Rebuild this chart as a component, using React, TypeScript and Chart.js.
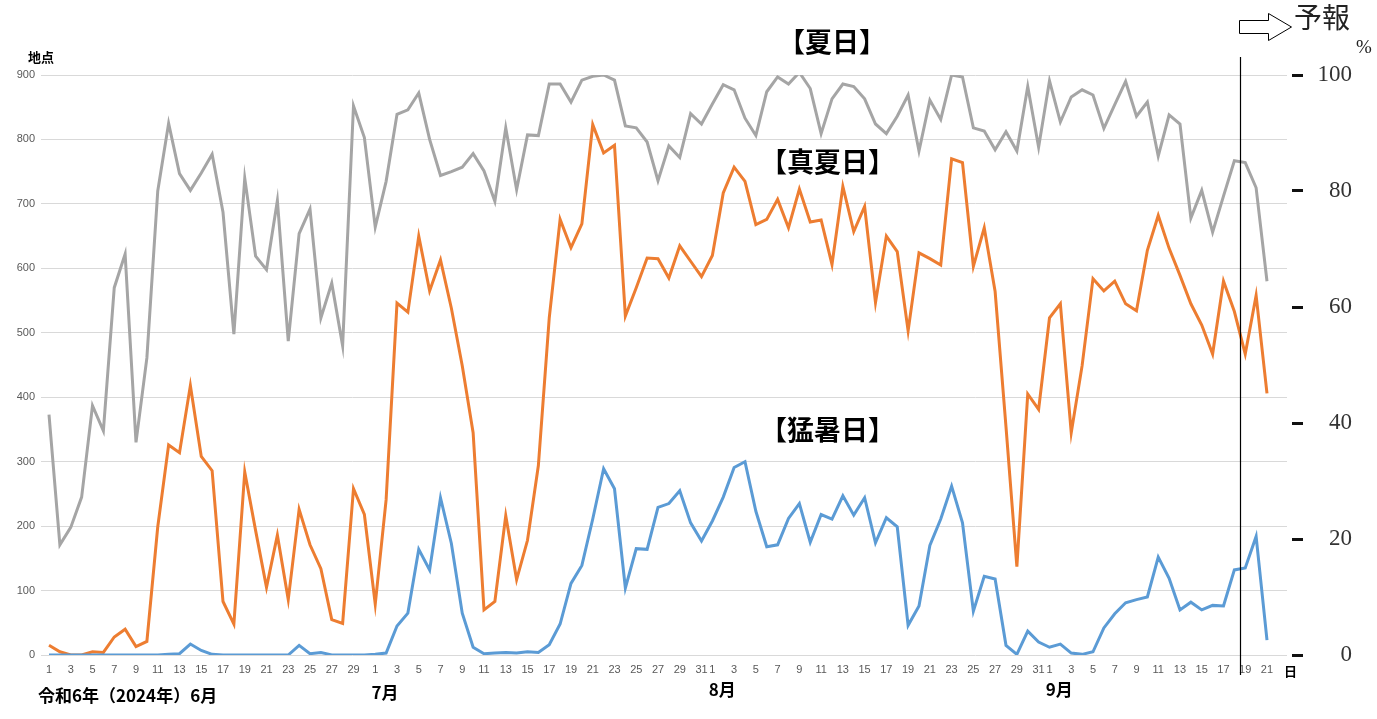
import React, { useEffect, useRef } from 'react';
import { Chart, registerables } from 'chart.js';

Chart.register(...registerables);

// Month structure of the x axis (June 1 – September 21, 2024)
const monthNames = ['7月', '8月', '9月'];
const monthLengths = [30, 31, 31, 21];
const dayLabels: string[] = monthLengths.flatMap((n) => Array.from({ length: n }, (_, i) => String(i + 1)));

// 夏日 (grey) – number of stations
const natsubi = [
  373, 171, 198, 245, 387, 348, 570, 622, 330, 461, 720, 825, 747, 721, 748, 777, 687, 498, 740, 619,
  598, 705, 487, 654, 692, 523, 577, 480, 852, 803, 664, 735, 839, 846, 872, 800, 744, 750, 757, 778,
  751, 704, 818, 722, 807, 806, 886, 886, 858, 892, 898, 900, 892, 821, 818, 796, 736, 790, 772, 840,
  824, 855, 885, 877, 833, 806, 874, 897, 886, 904, 879, 809, 863, 886, 882, 863, 824, 809, 836, 869,
  782, 861, 831, 900, 897, 818, 813, 784, 812, 782, 882, 788, 891, 827, 866, 877, 869, 817, 854, 890,
  836, 858, 774, 838, 824, 678, 721, 656, 712, 767, 764, 725, 580,
];

// 真夏日 (orange)
const manatsubi = [
  15, 5, 0, 0, 5, 4, 28, 40, 13, 21, 199, 326, 314, 418, 308, 286, 83, 48, 284, 193,
  105, 186, 86, 226, 171, 134, 55, 49, 258, 218, 79, 241, 546, 532, 650, 565, 613, 538, 449, 345,
  70, 83, 216, 117, 178, 294, 523, 676, 632, 669, 823, 779, 791, 526, 570, 616, 615, 585, 635, 611,
  587, 620, 717, 757, 735, 668, 676, 707, 663, 723, 672, 675, 606, 727, 657, 696, 547, 650, 626, 503,
  624, 615, 605, 770, 764, 603, 663, 564, 354, 137, 405, 381, 523, 545, 345, 449, 584, 565, 580, 545,
  534, 628, 682, 631, 589, 545, 512, 467, 580, 533, 467, 558, 406,
];

// 猛暑日 (blue)
const moshobi = [
  0, 0, 0, 0, 0, 0, 0, 0, 0, 0, 0, 1, 2, 17, 7, 1, 0, 0, 0, 0,
  0, 0, 0, 15, 2, 4, 0, 0, 0, 0, 1, 3, 45, 65, 164, 132, 244, 173, 65, 12,
  2, 3, 4, 3, 5, 4, 16, 48, 111, 139, 211, 289, 258, 104, 165, 164, 229, 235, 255, 205,
  177, 208, 245, 291, 300, 223, 168, 171, 212, 235, 175, 218, 211, 247, 217, 244, 174, 213, 199, 46,
  76, 170, 211, 262, 205, 68, 122, 118, 15, 1, 37, 20, 12, 17, 3, 1, 5, 42, 64, 81,
  86, 90, 152, 119, 70, 82, 70, 77, 76, 132, 135, 184, 23,
];

const forecastStart = 109.55; // boundary between observed and forecast (Sep 18/19)

const annotations = {
  id: 'annotations',
  afterDraw(chart: any) {
    const { ctx, scales } = chart;
    const xs = scales.x;
    ctx.save();
    ctx.fillStyle = '#000';
    ctx.textBaseline = 'middle';
    ctx.textAlign = 'left';

    ctx.font = 'bold 27px "Noto Sans CJK JP"';
    ctx.fillText('【夏日】', 778, 42);
    ctx.fillText('【真夏日】', 760, 162);
    ctx.fillText('【猛暑日】', 760, 430);

    ctx.font = 'bold 13px "Noto Sans CJK JP"';
    ctx.fillText('地点', 28, 57);
    ctx.fillText('日', 1284, 671);

    ctx.font = 'bold 17px "Noto Sans CJK JP"';
    ctx.fillText('令和6年（2024年）6月', 38, 696);
    let start = 0;
    monthNames.forEach((name, k) => {
      start += monthLengths[k];
      const px = xs.getPixelForValue(start + 0.9);
      ctx.textAlign = 'center';
      ctx.fillText(name, px, k === 0 ? 693 : 690);
    });

    // forecast line
    const fx = Math.round(xs.getPixelForValue(forecastStart)) + 0.5;
    ctx.strokeStyle = '#000';
    ctx.lineWidth = 1.2;
    ctx.beginPath();
    ctx.moveTo(fx, 57);
    ctx.lineTo(fx, 675);
    ctx.stroke();

    // arrow
    ctx.beginPath();
    ctx.moveTo(1239.5, 20.5);
    ctx.lineTo(1268.5, 20.5);
    ctx.lineTo(1268.5, 13.5);
    ctx.lineTo(1291.5, 27);
    ctx.lineTo(1268.5, 40.5);
    ctx.lineTo(1268.5, 33.5);
    ctx.lineTo(1239.5, 33.5);
    ctx.closePath();
    ctx.fillStyle = '#fff';
    ctx.fill();
    ctx.lineWidth = 1;
    ctx.stroke();

    ctx.fillStyle = '#222';
    ctx.textAlign = 'left';
    ctx.font = '28px "Noto Sans CJK JP"';
    ctx.fillText('予報', 1294, 17);
    ctx.font = '19px "Liberation Serif"';
    ctx.fillText('%', 1356, 48);
    ctx.restore();
  },
};

export default function App() {
  const ref = useRef<HTMLCanvasElement>(null);
  useEffect(() => {
    if (!ref.current) return;
    const mk = (vals: number[]) => vals.map((v, i) => ({ x: i, y: v }));
    const chart = new Chart(ref.current, {
      type: 'line',
      data: {
        datasets: [
          { label: '猛暑日', data: mk(moshobi), borderColor: '#5B9BD5', borderWidth: 3, pointRadius: 0, yAxisID: 'y' },
          { label: '真夏日', data: mk(manatsubi), borderColor: '#ED7D31', borderWidth: 3, pointRadius: 0, yAxisID: 'y' },
          { label: '夏日', data: mk(natsubi), borderColor: '#A5A5A5', borderWidth: 3, pointRadius: 0, yAxisID: 'y' },
        ],
      },
      options: {
        animation: false,
        responsive: false,
        layout: { padding: { top: 75, left: 0, right: 25, bottom: 0 } },
        plugins: { legend: { display: false }, tooltip: { enabled: false } },
        scales: {
          x: {
            type: 'linear',
            min: -0.736,
            max: 113.84,
            afterBuildTicks: (s: any) => {
              s.ticks = dayLabels.map((_, i) => ({ value: i }));
            },
            afterFit: (s: any) => {
              s.height = 64;
            },
            grid: { display: false, drawTicks: false },
            border: { display: false },
            ticks: {
              autoSkip: false,
              maxRotation: 0,
              minRotation: 0,
              padding: 8,
              color: '#595959',
              font: { family: '"Liberation Sans"', size: 11 },
              callback: (v: any) => {
                const d = dayLabels[Math.round(v)];
                return d && Number(d) % 2 === 1 ? d : '';
              },
            },
          },
          y: {
            position: 'left',
            min: 0,
            max: 900,
            afterFit: (s: any) => {
              s.width = 41;
            },
            grid: { color: '#D9D9D9', lineWidth: 1, drawTicks: false },
            border: { display: false },
            ticks: {
              stepSize: 100,
              padding: 6,
              color: '#595959',
              font: { family: '"Liberation Sans"', size: 11 },
            },
          },
          y2: {
            position: 'right',
            min: 0,
            max: 100,
            afterFit: (s: any) => {
              s.width = 65;
            },
            grid: {
              drawOnChartArea: false,
              drawTicks: true,
              tickLength: 20,
              tickWidth: 3,
              tickColor: '#111',
              tickBorderDash: [11, 100],
              tickBorderDashOffset: 106,
            },
            border: { display: false },
            ticks: {
              stepSize: 20,
              crossAlign: 'far',
              color: '#333',
              font: { family: '"Liberation Serif"', size: 23 },
            },
          },
        },
      },
      plugins: [annotations],
    });
    return () => chart.destroy();
  }, []);
  return (
    <div style={{ position: 'fixed', left: 0, top: 0, width: 1377, height: 719, background: '#fff' }}>
      <canvas ref={ref} width={1377} height={719} style={{ width: 1377, height: 719 }} />
    </div>
  );
}
